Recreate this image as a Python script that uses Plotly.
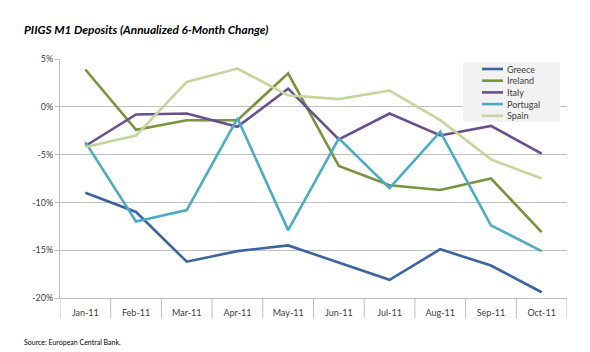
import plotly.graph_objects as go

months = ["Jan-11", "Feb-11", "Mar-11", "Apr-11", "May-11", "Jun-11", "Jul-11", "Aug-11", "Sep-11", "Oct-11"]
greece = [-9.0, -11.0, -16.2, -15.1, -14.5, -16.3, -18.1, -14.9, -16.6, -19.4]
ireland = [3.9, -2.4, -1.4, -1.4, 3.5, -6.2, -8.2, -8.7, -7.5, -13.1]
italy = [-4.1, -0.8, -0.7, -2.1, 1.9, -3.4, -0.7, -3.0, -2.0, -4.9]
portugal = [-3.7, -12.0, -10.8, -1.2, -12.9, -3.3, -8.5, -2.6, -12.4, -15.1]
spain = [-4.2, -3.0, 2.6, 4.0, 1.2, 0.8, 1.7, -1.4, -5.5, -7.5]
yticks = [5, 0, -5, -10, -15, -20]

series = [("Greece", greece, "#3C64A0"), ("Ireland", ireland, "#77933C"),
          ("Italy", italy, "#6A4F8F"), ("Portugal", portugal, "#4BACC6"),
          ("Spain", spain, "#C3D69B")]

font = "Lato, 'Open Sans', sans-serif"
W, H = 590, 352
ML, MR, MT, MB = 60, 23, 59, 54
PW, PH = W - ML - MR, H - MT - MB


def px(x):
    return (x - ML) / PW


def py(y):
    return (H - MB - y) / PH


fig = go.Figure()
for name, vals, col in series:
    fig.add_trace(go.Scatter(x=months, y=vals, name=name, mode="lines",
                             line=dict(color=col, width=2.6), showlegend=False))

# category boundary tick marks below the axis
for i in range(len(months) + 1):
    fig.add_shape(type="line", xref="x", yref="paper", x0=i - 0.5, x1=i - 0.5,
                  y0=0, y1=-0.085, line=dict(color="#BFBFBF", width=1))

annotations = [
    dict(text="<b><i>PIIGS M1 Deposits (Annualized 6-Month Change)</i></b>",
         xref="paper", yref="paper", x=px(22), y=py(30), xanchor="left",
         yanchor="middle", showarrow=False, font=dict(size=11.8, color="#000000")),
    dict(text="Source: European Central Bank.", xref="paper", yref="paper",
         x=px(22), y=py(342), xanchor="left", yanchor="middle", showarrow=False,
         font=dict(size=7, color="#000000")),
]

# compact legend box
fig.add_shape(type="rect", xref="paper", yref="paper", x0=px(463), x1=px(560),
              y0=py(62), y1=py(122), fillcolor="#F2F2F2", line=dict(width=0), layer="above")
for k, (name, vals, col) in enumerate(series):
    yy = 69 + k * 11.7
    fig.add_shape(type="line", xref="paper", yref="paper", x0=px(482), x1=px(503),
                  y0=py(yy), y1=py(yy), line=dict(color=col, width=2.6), layer="above")
    annotations.append(dict(text=name, xref="paper", yref="paper", x=px(505), y=py(yy),
                            xanchor="left", yanchor="middle", showarrow=False,
                            font=dict(size=9, color="#404040")))

fig.update_layout(
    width=W, height=H,
    margin=dict(l=ML, r=MR, t=MT, b=MB),
    paper_bgcolor="white", plot_bgcolor="white",
    font=dict(family=font, size=9, color="#404040"),
    showlegend=False,
    xaxis=dict(type="category", range=[-0.5, 9.5], showgrid=False,
               showline=True, linecolor="#BFBFBF", ticks="", tickfont=dict(size=9),
               ticklabelstandoff=6),
    yaxis=dict(range=[-20, 5], tickvals=yticks,
               ticktext=[f"{v}%" for v in yticks],
               showgrid=True, gridcolor="#BFBFBF", gridwidth=1,
               showline=True, linecolor="#BFBFBF", ticks="outside",
               ticklen=4, tickcolor="#BFBFBF", zeroline=False),
    annotations=annotations,
)
fig.write_html("out.html")
